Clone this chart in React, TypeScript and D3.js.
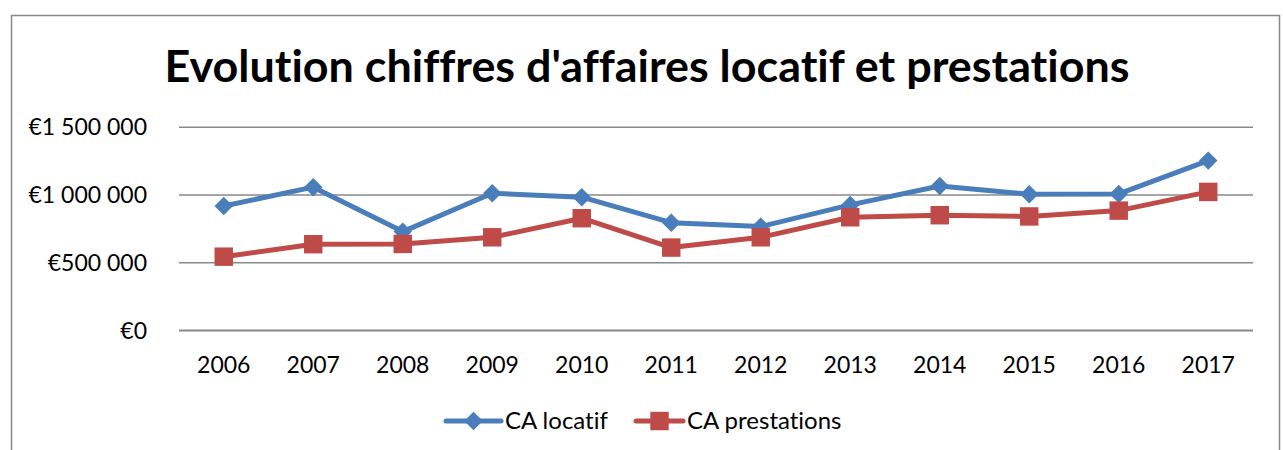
import React, { useEffect, useRef } from 'react';
import * as d3 from 'd3';

const years = ['2006', '2007', '2008', '2009', '2010', '2011', '2012', '2013', '2014', '2015', '2016', '2017'];
const caLocatif = [919000, 1058000, 730000, 1013000, 984000, 796000, 767000, 927000, 1067000, 1006000, 1008000, 1254000];
const caPrestations = [545000, 637000, 639000, 688000, 829000, 612000, 688000, 836000, 851000, 842000, 885000, 1023000];
const yTicks = [0, 500000, 1000000, 1500000];

const title = "Evolution chiffres d'affaires locatif et prestations";
const font = 'Lato, "Open Sans", sans-serif';
const blue = '#4a7ebb';
const red = '#be4b48';

const App = () => {
  const ref = useRef<SVGSVGElement>(null);

  useEffect(() => {
    const svg = d3.select(ref.current);
    svg.selectAll('*').remove();
    svg.style('font-variant-ligatures', 'none');

    const left = 179, right = 1253, top = 127.3, bottom = 330.5;

    svg.append('rect')
      .attr('x', 11.5).attr('y', 15.5)
      .attr('width', 1268).attr('height', 460)
      .attr('fill', '#fff').attr('stroke', '#888').attr('stroke-width', 1.5);

    svg.append('text')
      .attr('x', 647).attr('y', 82)
      .attr('text-anchor', 'middle')
      .attr('font-family', font).attr('font-weight', 'bold').attr('font-size', 44)
      .attr('textLength', 965).attr('lengthAdjust', 'spacingAndGlyphs')
      .text(title);

    const x = d3.scaleBand().domain(years).range([left, right]);
    const y = d3.scaleLinear().domain([0, 1500000]).range([bottom, top]);

    const fmt = (v: number) => '€' + d3.format(',')(v).replace(/,/g, ' ');

    svg.append('g')
      .selectAll('line')
      .data(yTicks)
      .join('line')
      .attr('x1', left).attr('x2', right)
      .attr('y1', d => y(d)).attr('y2', d => y(d))
      .attr('stroke', '#888').attr('stroke-width', d => d === 0 ? 2 : 1.5);

    svg.append('g')
      .selectAll('text')
      .data(yTicks)
      .join('text')
      .attr('x', 147).attr('y', d => y(d) + 8)
      .attr('text-anchor', 'end')
      .attr('font-family', font).attr('font-size', 23)
      .text(d => fmt(d));

    svg.append('g')
      .selectAll('text')
      .data(years)
      .join('text')
      .attr('x', d => (x(d) as number) + x.bandwidth() / 2)
      .attr('y', 373)
      .attr('text-anchor', 'middle')
      .attr('font-family', font).attr('font-size', 23)
      .text(d => d);

    const cx = (i: number) => (x(years[i]) as number) + x.bandwidth() / 2;
    const line = d3.line<number>().x((d, i) => cx(i)).y(d => y(d));

    const series = [
      { name: 'CA locatif', values: caLocatif, color: blue, rot: 45, size: 170 },
      { name: 'CA prestations', values: caPrestations, color: red, rot: 0, size: 340 },
    ];

    series.forEach(s => {
      svg.append('path')
        .attr('d', line(s.values))
        .attr('fill', 'none').attr('stroke', s.color).attr('stroke-width', 5)
        .attr('stroke-linejoin', 'round');
      svg.append('g')
        .selectAll('path')
        .data(s.values)
        .join('path')
        .attr('transform', (d, i) => `translate(${cx(i)},${y(d)}) rotate(${s.rot})`)
        .attr('d', d3.symbol().type(d3.symbolSquare).size(s.size)())
        .attr('fill', s.color);
    });

    const legend = [
      { x1: 446, x2: 501, tx: 505 },
      { x1: 636, x2: 683, tx: 687 },
    ];
    series.forEach((s, i) => {
      const l = legend[i];
      const g = svg.append('g');
      g.append('line')
        .attr('x1', l.x1).attr('x2', l.x2).attr('y1', 421).attr('y2', 421)
        .attr('stroke', s.color).attr('stroke-width', 5).attr('stroke-linecap', 'round');
      g.append('path')
        .attr('transform', `translate(${(l.x1 + l.x2) / 2},421) rotate(${s.rot})`)
        .attr('d', d3.symbol().type(d3.symbolSquare).size(s.size)())
        .attr('fill', s.color);
      g.append('text')
        .attr('x', l.tx).attr('y', 429)
        .attr('font-family', font).attr('font-size', 24)
        .text(s.name);
    });
  }, []);

  return (
    <svg ref={ref} width={1283} height={450}
      style={{ position: 'absolute', left: 0, top: 0, background: '#fff' }} />
  );
};

export default App;
